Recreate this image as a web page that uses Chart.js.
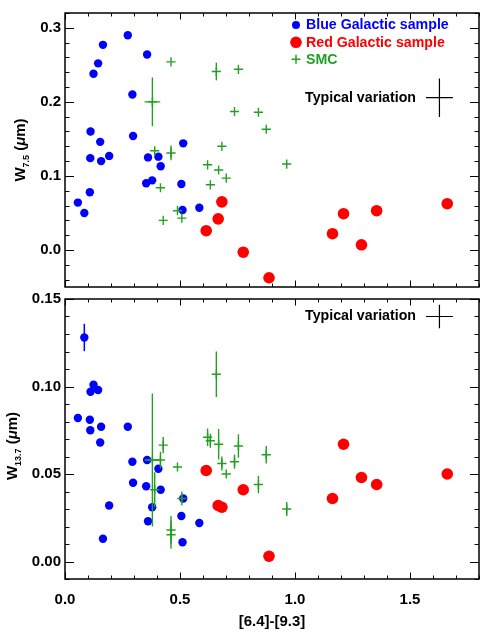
<!DOCTYPE html>
<html><head><meta charset="utf-8">
<script src="https://cdn.jsdelivr.net/npm/chart.js@4.4.1/dist/chart.umd.min.js"></script>
<style>
html,body{margin:0;padding:0;background:#fff;}
#wrap{position:relative;width:485px;height:634px;background:#fff;}
#c1{position:absolute;left:0;top:0;width:485px;height:300px;}
#c2{position:absolute;left:0;top:286px;width:485px;height:348px;}
</style></head><body>
<div id="wrap"><canvas id="c1" width="485" height="300"></canvas><canvas id="c2" width="485" height="348"></canvas></div>
<script>
// ---------- data ----------
const blueColor = [0.056, 0.084, 0.108, 0.110, 0.111, 0.124, 0.144, 0.153, 0.157, 0.165, 0.192, 0.273, 0.293, 0.296, 0.357, 0.361, 0.353, 0.379, 0.406, 0.416, 0.506, 0.514, 0.511, 0.584];
const blueW75   = [0.064, 0.050, 0.078, 0.124, 0.160, 0.238, 0.252, 0.146, 0.120, 0.277, 0.127, 0.290, 0.210, 0.154, 0.264, 0.125, 0.090, 0.094, 0.126, 0.113, 0.089, 0.144, 0.054, 0.057];
const blueW137  = [0.082, 0.128, 0.081, 0.075, 0.097, 0.101, 0.098, 0.068, 0.077, 0.013, 0.032, 0.077, 0.057, 0.045, 0.058, 0.023, 0.043, 0.031, 0.053, 0.041, 0.026, 0.036, 0.011, 0.022];
const blueW137Err = [0, 0.0078, 0, 0, 0, 0, 0, 0, 0, 0, 0, 0, 0, 0, 0, 0, 0, 0, 0, 0, 0, 0, 0, 0];

const redColor = [0.614, 0.666, 0.682, 0.775, 0.887, 1.163, 1.211, 1.289, 1.355, 1.662];
const redW75   = [0.026, 0.042, 0.065, -0.003, -0.0375, 0.022, 0.049, 0.007, 0.053, 0.0625];
const redW137  = [0.052, 0.032, 0.031, 0.041, 0.003, 0.036, 0.067, 0.048, 0.044, 0.050];

const smcColor    = [0.380, 0.390, 0.461, 0.461, 0.415, 0.427, 0.489, 0.508, 0.620, 0.632, 0.658, 0.668, 0.682, 0.701, 0.737, 0.754, 0.841, 0.875, 0.964];
const smcColorErr = [0.034, 0, 0, 0, 0, 0, 0, 0, 0, 0, 0, 0, 0, 0, 0, 0, 0, 0, 0];
const smcW75      = [0.200, 0.134, 0.254, 0.131, 0.084, 0.040, 0.053, 0.043, 0.115, 0.088, 0.241, 0.108, 0.140, 0.097, 0.187, 0.244, 0.186, 0.163, 0.116];
const smcW75Err   = [0.033, 0, 0, 0.010, 0, 0, 0, 0, 0, 0, 0.012, 0, 0, 0, 0, 0, 0, 0, 0];
const smcW137     = [0.058, 0.041, 0.018, 0.0153, 0.058, 0.0665, 0.054, 0.036, 0.071, 0.069, 0.107, 0.067, 0.056, 0.050, 0.057, 0.066, 0.044, 0.061, 0.030];
const smcW137Err  = [0.038, 0.010, 0.008, 0.008, 0.0047, 0.0047, 0, 0.004, 0.005, 0.004, 0.013, 0.0087, 0.004, 0, 0.004, 0.0067, 0.005, 0.005, 0.004];

const typicalX = [1.628];
const typicalXErr = [0.0585];
const typicalW75 = [0.2057];
const typicalW75Err = [0.026];
const typicalW137 = [0.140];
const typicalW137Err = [0.0067];

const xTicks = [0, 0.5, 1.0, 1.5];
const xTickLabels = ['0.0', '0.5', '1.0', '1.5'];
const y75Ticks = [0, 0.1, 0.2, 0.3];
const y75TickLabels = ['0.0', '0.1', '0.2', '0.3'];
const y137Ticks = [0, 0.05, 0.10, 0.15];
const y137TickLabels = ['0.00', '0.05', '0.10', '0.15'];

const seriesNames = ['Blue Galactic sample', 'Red Galactic sample', 'SMC'];
// ---------- styling ----------
const BLUE = '#0000ff', RED = '#ff0000', GREEN = '#22a022';
const FAM = "'Liberation Sans', Arial, Helvetica, sans-serif";
Chart.defaults.font.family = FAM;
Chart.defaults.color = '#000';

function pts(xs, ys, xe, ye) {
  return xs.map((x, i) => ({ x: x, y: ys[i], xerr: xe ? xe[i] : 0, yerr: ye ? ye[i] : 0 }));
}

const errorBars = {
  id: 'errorBars',
  beforeDatasetDraw(chart, args) {
    const ds = chart.data.datasets[args.index];
    if (!ds.errColor) return;
    const xs = chart.scales.x, ys = chart.scales.y, ctx = chart.ctx;
    ctx.save();
    ctx.strokeStyle = ds.errColor; ctx.lineWidth = ds.errWidth || 1.5;
    ds.data.forEach(p => {
      const px = xs.getPixelForValue(p.x), py = ys.getPixelForValue(p.y);
      ctx.beginPath();
      if (p.yerr) { ctx.moveTo(px, ys.getPixelForValue(p.y - p.yerr)); ctx.lineTo(px, ys.getPixelForValue(p.y + p.yerr)); }
      if (p.xerr) { ctx.moveTo(xs.getPixelForValue(p.x - p.xerr), py); ctx.lineTo(xs.getPixelForValue(p.x + p.xerr), py); }
      ctx.stroke();
    });
    ctx.restore();
  }
};

const frameTicks = {
  id: 'frameTicks',
  afterDraw(chart, args, o) {
    const ctx = chart.ctx, ca = chart.chartArea, xs = chart.scales.x, ys = chart.scales.y;
    ctx.save();
    ctx.strokeStyle = '#000';
    ctx.lineWidth = 1;
    const isMajor = (v, m) => Math.abs(v / m - Math.round(v / m)) < 1e-6;
    // y ticks
    for (let k = Math.ceil(ys.min / o.yMinor - 1e-6); k * o.yMinor <= ys.max + 1e-9; k++) {
      const v = k * o.yMinor;
      const py = Math.round(ys.getPixelForValue(v)) + 0.5;
      const len = isMajor(v, o.yMajor) ? 9 : 4.5;
      ctx.beginPath();
      ctx.moveTo(ca.left, py); ctx.lineTo(ca.left + len, py);
      ctx.moveTo(ca.right, py); ctx.lineTo(ca.right - len, py);
      ctx.stroke();
    }
    for (let k = Math.ceil(xs.min / o.xMinor - 1e-6); k * o.xMinor <= xs.max + 1e-9; k++) {
      const v = k * o.xMinor;
      const px = Math.round(xs.getPixelForValue(v)) + 0.5;
      const len = isMajor(v, o.xMajor) ? 6.5 : 3.5;
      ctx.beginPath();
      ctx.moveTo(px, ca.bottom); ctx.lineTo(px, ca.bottom - len);
      ctx.moveTo(px, ca.top); ctx.lineTo(px, ca.top + len);
      ctx.stroke();
    }
    ctx.lineWidth = 1.5;
    ctx.strokeRect(ca.left, ca.top, ca.right - ca.left, ca.bottom - ca.top);
    ctx.restore();
  }
};

const annotations = {
  id: 'annotations',
  afterDraw(chart, args, o) {
    const ctx = chart.ctx, xs = chart.scales.x, ys = chart.scales.y;
    ctx.save();
    // typical variation label
    const tx = xs.getPixelForValue(o.typX - o.typXErr) - 10;
    const ty = ys.getPixelForValue(o.typY);
    ctx.font = 'bold 14.2px ' + FAM;
    ctx.fillStyle = '#000';
    ctx.textAlign = 'right'; ctx.textBaseline = 'middle';
    ctx.fillText('Typical variation', tx, ty);
    // legend
    if (o.legend) {
      const rows = [
        { name: seriesNames[0], color: BLUE, kind: 'circle', r: 4, y: 25 },
        { name: seriesNames[1], color: RED, kind: 'circle', r: 5.8, y: 42.3 },
        { name: seriesNames[2], color: GREEN, kind: 'cross', r: 4.5, y: 59.3 }
      ];
      rows.forEach(r => {
        const mx = 296;
        if (r.kind === 'circle') {
          ctx.fillStyle = r.color; ctx.beginPath(); ctx.arc(mx, r.y, r.r, 0, Math.PI * 2); ctx.fill();
        } else {
          ctx.strokeStyle = r.color; ctx.lineWidth = 1.5; ctx.beginPath();
          ctx.moveTo(mx - r.r, r.y); ctx.lineTo(mx + r.r, r.y);
          ctx.moveTo(mx, r.y - r.r); ctx.lineTo(mx, r.y + r.r); ctx.stroke();
        }
        ctx.fillStyle = r.color; ctx.textAlign = 'left';
        ctx.fillText(r.name, 306, r.y + 0.5);
      });
    }
    // y title with subscript
    const parts = [
      { t: 'W', f: 'bold 15px ' + FAM, dy: 0 },
      { t: o.sub, f: 'bold 9px ' + FAM, dy: 4 },
      { t: ' (', f: 'bold 15px ' + FAM, dy: 0 },
      { t: '\u03bc', f: 'italic bold 15px ' + FAM, dy: 0 },
      { t: 'm)', f: 'bold 15px ' + FAM, dy: 0 }
    ];
    let total = 0;
    parts.forEach(p => { ctx.font = p.f; p.w = ctx.measureText(p.t).width; total += p.w; });
    ctx.translate(o.titleX, o.titleY);
    ctx.rotate(-Math.PI / 2);
    ctx.fillStyle = '#000'; ctx.textAlign = 'left'; ctx.textBaseline = 'alphabetic';
    let cx = -total / 2;
    parts.forEach(p => { ctx.font = p.f; ctx.fillText(p.t, cx, p.dy); cx += p.w; });
    ctx.restore();
  }
};

const tickFont = { family: FAM, size: 15, weight: 'bold' };

function makeChart(id, cfg) {
  const topPanel = cfg.top;
  const datasets = [
    { label: seriesNames[0], data: pts(blueColor, cfg.blueY, null, cfg.blueErr), pointStyle: 'circle', pointRadius: 4.2, pointBackgroundColor: BLUE, pointBorderWidth: 0, order: 3, errColor: cfg.blueErr ? BLUE : null, errWidth: 1.5 },
    { label: seriesNames[1], data: pts(redColor, cfg.redY), pointStyle: 'circle', pointRadius: 5.8, pointBackgroundColor: RED, pointBorderWidth: 0, order: 2 },
    { label: seriesNames[2], data: pts(smcColor, cfg.smcY, smcColorErr, cfg.smcErr), pointStyle: 'cross', pointRadius: 4.6, pointBorderColor: GREEN, pointBorderWidth: 1.4, order: 1, errColor: GREEN, errWidth: 1.4 },
    { label: 'Typical variation', data: pts(typicalX, cfg.typY, typicalXErr, cfg.typErr), pointRadius: 0, order: 0, errColor: '#000', errWidth: 1.2 }
  ];
  return new Chart(document.getElementById(id), {
    type: 'scatter',
    data: { datasets },
    plugins: [errorBars, frameTicks, annotations],
    options: {
      responsive: false, animation: false,
      layout: { padding: cfg.padding },
      plugins: {
        legend: { display: false }, tooltip: { enabled: false },
        frameTicks: { xMinor: 0.1, xMajor: 0.5, yMinor: cfg.yMinor, yMajor: cfg.yMajor },
        annotations: { legend: topPanel, typX: typicalX[0], typXErr: typicalXErr[0], typY: cfg.typY[0], sub: cfg.sub, titleX: cfg.titleX, titleY: cfg.titleY }
      },
      scales: {
        x: topPanel ? { type: 'linear', min: 0, max: 1.8, display: false } : {
          type: 'linear', min: 0, max: 1.8,
          afterBuildTicks: s => { s.ticks = xTicks.map(v => ({ value: v })); },
          ticks: { callback: (v, i) => xTickLabels[i], maxRotation: 0, autoSkip: false, padding: 12, font: tickFont, color: '#000' },
          grid: { display: false, drawTicks: false }, border: { display: false },
          title: { display: true, text: '[6.4]-[9.3]', font: tickFont, color: '#000', padding: { top: 0, bottom: 3 } },
          afterFit: s => { s.height = 55; }
        },
        y: {
          type: 'linear', min: cfg.yMin, max: cfg.yMax,
          afterBuildTicks: s => { s.ticks = cfg.yTicks.map(v => ({ value: v })); },
          ticks: { callback: (v, i) => cfg.yLabels[i], padding: 4, font: tickFont, color: '#000' },
          grid: { display: false, drawTicks: false }, border: { display: false },
          afterFit: s => { s.width = 65; }
        }
      }
    }
  });
}

makeChart('c1', {
  top: true, blueY: blueW75, blueErr: null, redY: redW75, smcY: smcW75, smcErr: smcW75Err,
  typY: typicalW75, typErr: typicalW75Err, yMin: -0.05, yMax: 0.32, yTicks: y75Ticks, yLabels: y75TickLabels,
  yMinor: 0.02, yMajor: 0.1, padding: { left: 0, top: 6, right: 6, bottom: 7 }, sub: '7.5', titleX: 25, titleY: 150
});
makeChart('c2', {
  top: false, blueY: blueW137, blueErr: blueW137Err, redY: redW137, smcY: smcW137, smcErr: smcW137Err,
  typY: typicalW137, typErr: typicalW137Err, yMin: -0.01, yMax: 0.15, yTicks: y137Ticks, yLabels: y137TickLabels,
  yMinor: 0.01, yMajor: 0.05, padding: { left: 0, top: 7, right: 6, bottom: 0 }, sub: '13.7', titleX: 17, titleY: 160
});
</script>
</body></html>
